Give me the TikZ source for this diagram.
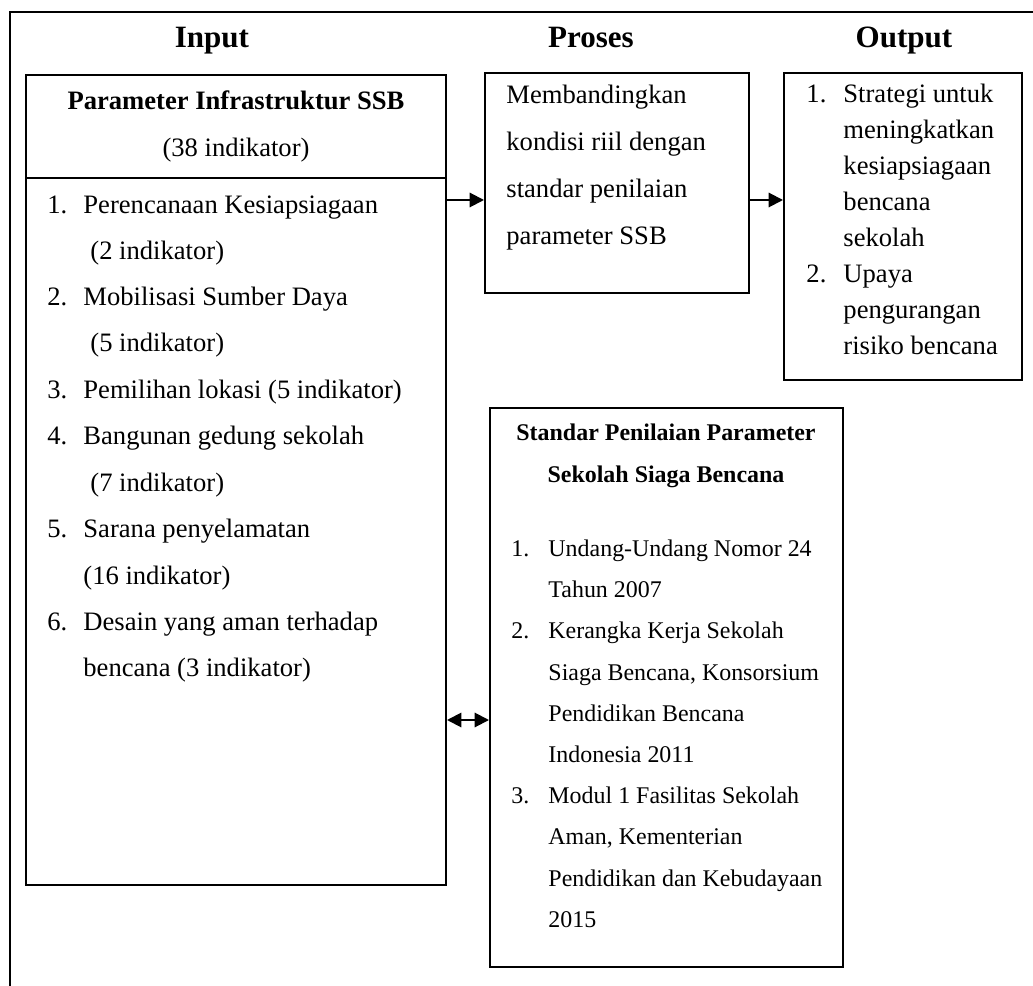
\documentclass[tikz,border=0pt]{standalone}
\usepackage{fontspec}
\setmainfont{Liberation Serif}
\usetikzlibrary{arrows.meta,fit}
\begin{document}
\begin{tikzpicture}[x=0.4512pt,y=-0.4512pt,
  boxline/.style={line width=0.9pt},
  box/.style={draw,line width=0.9pt,inner sep=0pt},
  arr/.style={line width=0.9pt,-{Triangle[length=6.5pt,width=6.5pt]}},
  arrtwo/.style={line width=0.9pt,{Triangle[length=6.5pt,width=6.5pt]}-{Triangle[length=6.5pt,width=6.5pt]}},
  ttl/.style={font=\fontsize{14}{16}\selectfont\bfseries,anchor=base,inner sep=0pt},
  hd/.style={font=\fontsize{12}{14}\selectfont\bfseries,anchor=base,inner sep=0pt},
  txt/.style={font=\fontsize{12}{14}\selectfont,anchor=base west,inner sep=0pt},
  shd/.style={font=\fontsize{10.8}{13}\selectfont\bfseries,anchor=base,inner sep=0pt},
  stxt/.style={font=\fontsize{10.8}{13}\selectfont,anchor=base west,inner sep=0pt}]
\useasboundingbox (0,0) rectangle (1033,986);
% outer frame (top and left only)
\coordinate (ftl) at (10,12);
\coordinate (ftr) at (1033,12);
\coordinate (fbl) at (10,986);
\draw[boxline] (ftr) -- (ftl) -- (fbl);
% titles
\node[ttl] (tin) at (212,48) {Input};
\node[ttl] (tpr) at (591,48) {Proses};
\node[ttl] (tout) at (904,48) {Output};
% boxes
\node[box,fit={(26,75) (446,885)}] (input) {};
\node[box,fit={(485,73) (749,293)}] (proses) {};
\node[box,fit={(784,73) (1022,380)}] (output) {};
\node[box,fit={(490,408) (843,967)}] (std) {};
\coordinate (dl) at (26,178);
\coordinate (dr) at (446,178);
\draw[boxline] (dl) -- (dr);
% connectors
\coordinate (ya) at (0,200);
\coordinate (yb) at (0,720);
\draw[arr] (input.east |- ya) -- (proses.west |- ya);
\draw[arr] (proses.east |- ya) -- (output.west |- ya);
\draw[arrtwo] (input.east |- yb) -- (std.west |- yb);
% input text
\node[hd] (h1) at (236,110) {Parameter Infrastruktur SSB};
\node[font=\fontsize{12}{14}\selectfont,anchor=base,inner sep=0pt] (h2) at (236,157) {(38 indikator)};
\node[txt] (n1) at (47,214) {1.};
\node[txt] (i1) at (83,214) {Perencanaan Kesiapsiagaan};
\node[txt] (i1b) at (90,260) {(2 indikator)};
\node[txt] (n2) at (47,306) {2.};
\node[txt] (i2) at (83,306) {Mobilisasi Sumber Daya};
\node[txt] (i2b) at (90,352) {(5 indikator)};
\node[txt] (n3) at (47,399) {3.};
\node[txt] (i3) at (83,399) {Pemilihan lokasi (5 indikator)};
\node[txt] (n4) at (47,445) {4.};
\node[txt] (i4) at (83,445) {Bangunan gedung sekolah};
\node[txt] (i4b) at (90,491) {(7 indikator)};
\node[txt] (n5) at (47,537) {5.};
\node[txt] (i5) at (83,537) {Sarana penyelamatan};
\node[txt] (i5b) at (83,584) {(16 indikator)};
\node[txt] (n6) at (47,630) {6.};
\node[txt] (i6) at (83,630) {Desain yang aman terhadap};
\node[txt] (i6b) at (83,676) {bencana (3 indikator)};
% proses text
\node[txt] (p1) at (506,104) {Membandingkan};
\node[txt] (p2) at (506,151) {kondisi riil dengan};
\node[txt] (p3) at (506,198) {standar penilaian};
\node[txt] (p4) at (506,245) {parameter SSB};
% output text
\node[txt] (on1) at (806,103) {1.};
\node[txt] (o1) at (843,103) {Strategi untuk};
\node[txt] (o2) at (843,139) {meningkatkan};
\node[txt] (o3) at (843,175) {kesiapsiagaan};
\node[txt] (o4) at (843,211) {bencana};
\node[txt] (o5) at (843,247) {sekolah};
\node[txt] (on2) at (806,283) {2.};
\node[txt] (o6) at (843,283) {Upaya};
\node[txt] (o7) at (843,319) {pengurangan};
\node[txt] (o8) at (843,355) {risiko bencana};
% standar text
\node[shd] (s1) at (666,441) {Standar Penilaian Parameter};
\node[shd] (s2) at (666,482) {Sekolah Siaga Bencana};
\node[stxt] (sn1) at (511,556) {1.};
\node[stxt] (a1) at (548,556) {Undang-Undang Nomor 24};
\node[stxt] (a2) at (548,597) {Tahun 2007};
\node[stxt] (sn2) at (511,638) {2.};
\node[stxt] (b1) at (548,638) {Kerangka Kerja Sekolah};
\node[stxt] (b2) at (548,680) {Siaga Bencana, Konsorsium};
\node[stxt] (b3) at (548,721) {Pendidikan Bencana};
\node[stxt] (b4) at (548,762) {Indonesia 2011};
\node[stxt] (sn3) at (511,803) {3.};
\node[stxt] (c1) at (548,803) {Modul 1 Fasilitas Sekolah};
\node[stxt] (c2) at (548,844) {Aman, Kementerian};
\node[stxt] (c3) at (548,886) {Pendidikan dan Kebudayaan};
\node[stxt] (c4) at (548,927) {2015};
\end{tikzpicture}
\end{document}
